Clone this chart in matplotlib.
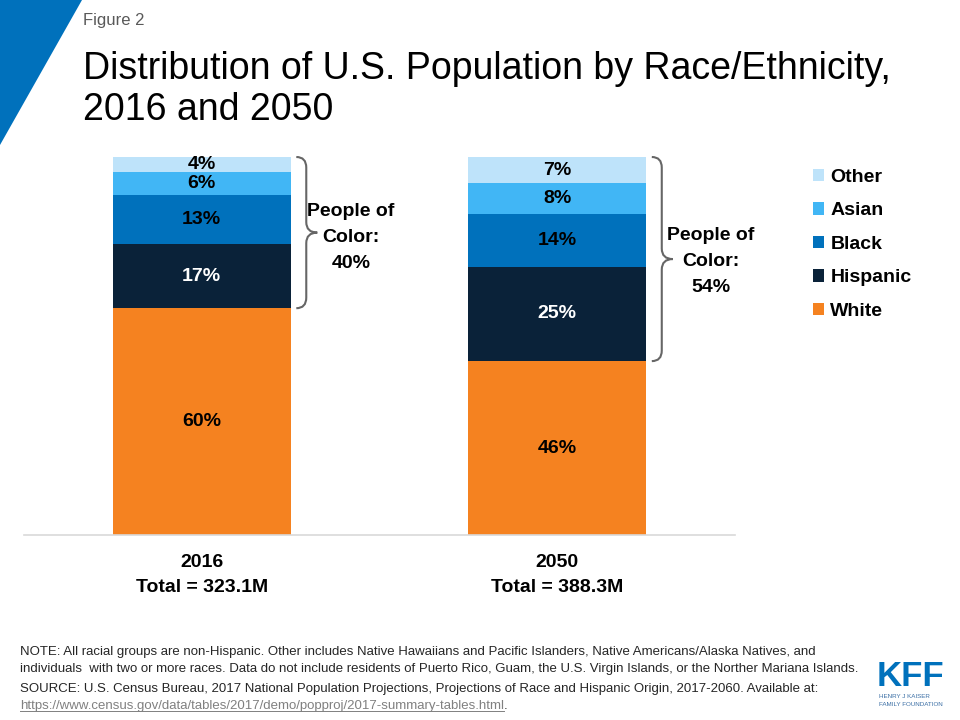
import matplotlib
matplotlib.use("Agg")
import matplotlib.pyplot as plt
from matplotlib.patches import Polygon, PathPatch
from matplotlib.path import Path
import numpy as np

plt.rcParams['font.family'] = ['Liberation Sans', 'DejaVu Sans']

years = ["2016", "2050"]
totals = ["Total = 323.1M", "Total = 388.3M"]
categories = ["White", "Hispanic", "Black", "Asian", "Other"]
values = {
    "White":    [60, 46],
    "Hispanic": [17, 25],
    "Black":    [13, 14],
    "Asian":    [6, 8],
    "Other":    [4, 7],
}
people_of_color = [40, 54]
colors = {
    "White": "#F58220",
    "Hispanic": "#0A2239",
    "Black": "#0071BC",
    "Asian": "#41B6F5",
    "Other": "#BEE3FA",
}
label_colors = {"White": "black", "Hispanic": "white", "Black": "black",
                "Asian": "black", "Other": "black"}

fig = plt.figure(figsize=(9.6, 7.2), dpi=100)

# blue triangle top-left
tri = Polygon([(0, 1), (82/960, 1), (0, 1 - 145/720)], closed=True,
              transform=fig.transFigure, facecolor="#0071BC", edgecolor="none")
fig.patches.append(tri)

fig.text(83/960, 1 - 21/720, "Figure 2", fontsize=12, color="#595959", va="center", ha="left")
fig.text(83/960, 1 - 79/720, "Distribution of U.S. Population by Race/Ethnicity,",
         fontsize=27, color="black", va="baseline", ha="left")
fig.text(83/960, 1 - 120/720, "2016 and 2050",
         fontsize=27, color="black", va="baseline", ha="left")

ax = fig.add_axes([24/960, 1 - 535/720, 711/960, 378/720])
x = np.arange(len(years))
width = 0.5
bottom = np.zeros(len(years))
for cat in categories:
    vals = np.array(values[cat], dtype=float)
    ax.bar(x, vals, width, bottom=bottom, color=colors[cat], label=cat, zorder=2)
    for xi, v, b in zip(x, vals, bottom):
        ax.text(xi, b + v / 2, f"{int(v)}%", ha="center", va="center",
                fontsize=14, fontweight="bold", color=label_colors[cat], zorder=3)
    bottom += vals

ax.set_xlim(-0.5, 1.5)
ax.set_ylim(0, 100)
for s in ["top", "right", "left"]:
    ax.spines[s].set_visible(False)
ax.spines["bottom"].set_color("#D9D9D9")
ax.spines["bottom"].set_linewidth(1.2)
ax.set_yticks([])
ax.set_xticks(x)
ax.set_xticklabels([f"{y}\n{t}" for y, t in zip(years, totals)],
                   fontsize=14, fontweight="bold", linespacing=1.55)
ax.tick_params(axis="x", length=0, pad=14)

# braces
def brace(ax, xs, y_bot, y_top):
    x0 = xs + 0.016
    x1 = xs + 0.044
    x2 = xs + 0.075
    mid = (y_bot + y_top) / 2
    r = 2.8
    verts = [
        (x0, y_top),
        (x1, y_top), (x1, y_top - r),
        (x1, mid + r),
        (x1, mid), (x2, mid),
        (x1, mid), (x1, mid - r),
        (x1, y_bot + r),
        (x1, y_bot), (x0, y_bot),
    ]
    codes = [Path.MOVETO,
             Path.CURVE3, Path.CURVE3,
             Path.LINETO,
             Path.CURVE3, Path.CURVE3,
             Path.CURVE3, Path.CURVE3,
             Path.LINETO,
             Path.CURVE3, Path.CURVE3]
    p = PathPatch(Path(verts, codes), facecolor="none", edgecolor="#666666",
                  linewidth=1.5, clip_on=False, zorder=4)
    ax.add_patch(p)

white_vals = values["White"]
text_x = [351, 711]
text_dy = [-1.4, -0.6]
for i in range(len(years)):
    brace(ax, x[i] + width / 2, white_vals[i], 100)
    mid = (white_vals[i] + 100) / 2
    xt = (text_x[i] - 24) / 711 * 2 - 0.5
    ax.text(xt, mid + text_dy[i], f"People of\nColor:\n{people_of_color[i]}%", ha="center",
            va="center", fontsize=14, fontweight="bold", linespacing=1.7, zorder=4)

# legend
handles, labels = ax.get_legend_handles_labels()
leg = fig.legend(handles[::-1], labels[::-1], loc="upper left",
                 bbox_to_anchor=(805/960, 1 - 161/720), frameon=False,
                 prop={"size": 14, "weight": "bold"}, handlelength=0.6,
                 handleheight=0.6, handletextpad=0.3, labelspacing=0.85,
                 borderaxespad=0.0)

# notes
note_color = "#262626"
fs_note = 9.5
fig.text(20/960, 1 - 652/720,
         "NOTE: All racial groups are non-Hispanic. Other includes Native Hawaiians and Pacific Islanders, Native Americans/Alaska Natives, and",
         fontsize=fs_note, color=note_color, va="center", ha="left")
fig.text(20/960, 1 - 669/720,
         "individuals  with two or more races. Data do not include residents of Puerto Rico, Guam, the U.S. Virgin Islands, or the Norther Mariana Islands.",
         fontsize=fs_note, color=note_color, va="center", ha="left")
fig.text(20/960, 1 - 689/720,
         "SOURCE: U.S. Census Bureau, 2017 National Population Projections, Projections of Race and Hispanic Origin, 2017-2060. Available at:",
         fontsize=fs_note, color=note_color, va="center", ha="left")
link = fig.text(20/960, 1 - 706/720,
                "https://www.census.gov/data/tables/2017/demo/popproj/2017-summary-tables.html",
                fontsize=fs_note, color="#808080", va="center", ha="left")
fig.canvas.draw()
bb = link.get_window_extent()
fig.add_artist(plt.Line2D([bb.x0 / 960, bb.x1 / 960], [(bb.y0 + 1) / 720, (bb.y0 + 1) / 720],
                          transform=fig.transFigure, color="#808080", linewidth=0.7))
fig.text(bb.x1 / 960, 1 - 706/720, ".", fontsize=fs_note, color=note_color, va="center", ha="left")

# KFF logo
fig.text(910/960, 1 - 677/720, "KFF", fontsize=25, fontweight="bold", color="#0071BC",
         ha="center", va="center")
fig.text(879/960, 1 - 697/720, "HENRY J KAISER", fontsize=4.5, color="#3A6EA5",
         ha="left", va="center")
fig.text(879/960, 1 - 705/720, "FAMILY FOUNDATION", fontsize=4.5, color="#3A6EA5",
         ha="left", va="center")

fig.savefig("out.png", dpi=100)
